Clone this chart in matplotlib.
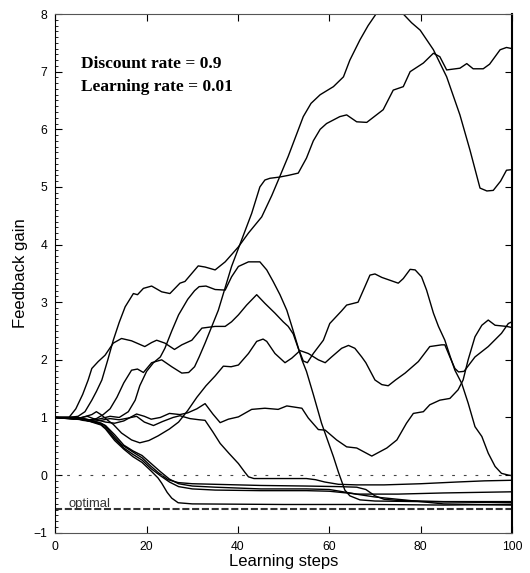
import matplotlib.pyplot as plt

# learning runs (feedback gain vs learning step)
run_a_x = [0, 3, 5, 6.5, 8, 9, 10.2, 11.5, 12.7, 14, 15.3, 17.1, 18, 19.3, 21.1, 23.3, 25.1, 27.3, 28.4, 29.9,
           31.3, 32.8, 35, 37.2, 40.1, 42.3, 45.2, 47.4, 49, 51, 54.3, 56, 58, 60.9, 63.1, 64.5, 66.7, 68.5,
           70.4, 72, 74, 76.2, 78, 79.9, 82.8, 85.7, 88.6, 90.8, 93, 94.5, 95.9, 97.5, 98.8, 100]
run_a_y = [1, 1.0, 1.02, 1.1, 1.3, 1.45, 1.65, 2.0, 2.34, 2.65, 2.92, 3.15, 3.13, 3.24, 3.28, 3.18, 3.15, 3.33, 3.36, 3.5,
           3.63, 3.61, 3.56, 3.7, 3.96, 4.2, 4.48, 4.85, 5.15, 5.53, 6.22, 6.45, 6.6, 6.74, 6.91, 7.2, 7.55, 7.8,
           8.02, 8.25, 8.3, 8.0, 7.85, 7.72, 7.38, 6.91, 6.25, 5.64, 4.98, 4.93, 4.94, 5.1, 5.29, 5.3]

run_b_x = [0, 5, 7, 9, 10.5, 12, 13.5, 15, 16.7, 18, 19.3, 21.1, 23.3, 25.5, 27.7, 29.2, 30.5, 31.5, 32.8, 35.7,
           38.6, 40.8, 43, 44.8, 45.9, 47, 49, 51, 53.2, 55, 56.5, 58, 59.4, 62.3, 63.8, 66, 68.2, 71.8, 74,
           76.2, 77.7, 80.6, 82.8, 84.2, 85.7, 88.6, 90.1, 91.5, 93.7, 95.1, 97.4, 98.8, 100]
run_b_y = [1, 1.0, 0.95, 0.98, 1.05, 1.15, 1.35, 1.6, 1.82, 1.84, 1.78, 1.95, 2.0, 1.88, 1.77, 1.78, 1.88, 2.05, 2.29, 2.86,
           3.62, 4.08, 4.54, 5.0, 5.12, 5.15, 5.17, 5.2, 5.24, 5.5, 5.8, 6.0, 6.1, 6.22, 6.25, 6.13, 6.12, 6.34, 6.68,
           6.74, 7.0, 7.15, 7.32, 7.26, 7.03, 7.06, 7.14, 7.05, 7.05, 7.13, 7.38, 7.42, 7.4]

run_c_x = [0, 5, 8, 10, 12, 14, 16, 17.5, 18.5, 20, 21.5, 23, 24, 25.5, 27, 29, 30.5, 31.5, 33, 35, 37.2, 38.6,
           40.1, 42.3, 44.8, 46.3, 47.7, 49.2, 50.7, 51.8, 52.9, 54, 55, 56.5, 58.3, 60.9, 62, 63.4, 64.5, 66.7,
           70, 80, 90, 100]
run_c_y = [1, 1.0, 0.95, 0.98, 1.02, 1.0, 1.1, 1.3, 1.55, 1.8, 1.95, 2.05, 2.2, 2.5, 2.78, 3.05, 3.2, 3.27, 3.28, 3.22, 3.21, 3.44,
           3.62, 3.7, 3.7, 3.56, 3.36, 3.13, 2.86, 2.58, 2.29, 2.0, 1.8, 1.4, 0.9, 0.32, 0.05, -0.26, -0.36, -0.43,
           -0.45, -0.46, -0.47, -0.48]

run_d_x = [0, 3, 4.5, 6, 7.2, 8, 9.4, 10.9, 12.7, 14.5, 16.7, 19.6, 21.1, 22.2, 24, 26.1, 27.7, 29.9, 32.1, 35,
           37.2, 38.6, 40.1, 41.9, 44.1, 45.9, 48.1, 49.9, 51, 52.1, 53.2, 54.3, 55.2, 56.5, 58.7, 60.1, 62.7,
           63.8, 65.3, 66.3, 67.8, 68.9, 70, 71.5, 75.1, 76.2, 77.7, 78.8, 80.2, 81.3, 82.8, 83.9, 85.3, 86.5,
           87.5, 89, 90.4, 91.9, 93.4, 94.8, 96.3, 97.7, 99.2, 100]
run_d_y = [1, 1.0, 1.15, 1.4, 1.65, 1.85, 1.97, 2.08, 2.29, 2.37, 2.33, 2.23, 2.3, 2.34, 2.29, 2.18, 2.26, 2.34, 2.55, 2.58,
           2.58, 2.66, 2.78, 2.95, 3.13, 2.98, 2.81, 2.66, 2.58, 2.45, 2.2, 1.98, 1.95, 2.11, 2.34, 2.63, 2.85,
           2.95, 2.98, 3.0, 3.27, 3.47, 3.49, 3.43, 3.33, 3.41, 3.57, 3.56, 3.44, 3.21, 2.81, 2.58, 2.34, 2.05,
           1.82, 1.59, 1.25, 0.84, 0.67, 0.38, 0.15, 0.03, 0.0, -0.01]

run_e_x = [0, 5, 8, 9, 10, 11.5, 12.7, 14.5, 16.7, 18.5, 20.5, 22.5, 25, 27, 29, 31, 33, 35, 36.8, 38.5, 40.1,
           42.3, 44.1, 45.5, 46.3, 48.1, 50.3, 51.8, 53.6, 55.4, 57.6, 59.1, 60.5, 62.7, 64.2, 65.6, 67.1, 68,
           70, 71.5, 72.9, 74.5, 76.6, 79.5, 82, 84.6, 85.3, 86.4, 87.5, 88.3, 89.5, 91.9, 94.8, 97.7, 99.2, 100]
run_e_y = [1, 0.98, 1.05, 1.1, 1.05, 0.95, 0.88, 0.73, 0.61, 0.56, 0.6, 0.68, 0.8, 0.92, 1.12, 1.35, 1.55, 1.72, 1.89, 1.88, 1.91,
           2.11, 2.32, 2.36, 2.32, 2.11, 1.95, 2.03, 2.16, 2.11, 2.0, 1.95, 2.05, 2.2, 2.25, 2.2, 2.05, 1.95,
           1.65, 1.57, 1.55, 1.65, 1.77, 1.97, 2.23, 2.26, 2.26, 2.05, 1.85, 1.79, 1.8, 2.05, 2.23, 2.46, 2.63, 2.66]

run_g_x = [0, 4, 7, 9, 11, 13, 15, 17.8, 19.5, 21, 23, 25, 27.3, 29, 31, 32.8, 34.5, 36.1, 37.9, 40.1, 43, 45.9,
           48.8, 50.7, 54, 55.4, 57.6, 59.1, 61.6, 63.8, 66, 69.3, 72.6, 74.8, 76.9, 78.4, 80.6, 82, 84.2, 86.4,
           88.2, 89.3, 90.4, 91.9, 93.4, 94.8, 96.3, 98.8, 100]
run_g_y = [1, 0.97, 1.02, 0.96, 0.92, 0.9, 0.94, 1.06, 1.02, 0.97, 1.0, 1.07, 1.05, 1.08, 1.15, 1.24, 1.06, 0.91, 0.97, 1.01, 1.14, 1.16,
           1.14, 1.2, 1.16, 0.99, 0.79, 0.78, 0.61, 0.49, 0.47, 0.33, 0.47, 0.61, 0.9, 1.07, 1.1, 1.22, 1.3, 1.33,
           1.48, 1.65, 2.0, 2.4, 2.6, 2.69, 2.6, 2.58, 2.56]

run_w_x = [0, 4, 6, 8, 10, 12, 14, 16, 17.8, 19.5, 21.5, 23.5, 25.8, 27.3, 29.5, 31.5, 32.8, 34.5, 36.1, 38, 40.1,
           41.5, 42.3, 43.5, 50, 55, 57, 59, 62, 66, 72, 80, 88, 94, 100]
run_w_y = [1, 1.0, 0.95, 0.93, 0.95, 0.98, 0.96, 0.99, 1.02, 0.92, 0.86, 0.93, 1.0, 1.03, 0.98, 0.96, 0.95, 0.75, 0.55, 0.38, 0.2,
           0.05, -0.03, -0.06, -0.06, -0.06, -0.08, -0.12, -0.16, -0.17, -0.17, -0.15, -0.12, -0.1, -0.09]

run_l1_x = [0, 6, 8, 10, 11, 13, 14.5, 17, 19, 21, 22.6, 24.7, 26.9, 30, 35, 45, 55, 62, 66, 68, 70, 72, 75, 85, 100]
run_l1_y = [1, 0.97, 0.93, 0.9, 0.85, 0.66, 0.53, 0.4, 0.3, 0.15, 0.04, -0.08, -0.13, -0.15, -0.16, -0.18, -0.19, -0.2, -0.21,
            -0.25, -0.36, -0.42, -0.44, -0.46, -0.46]

run_l2_x = [0, 6, 8, 10, 11, 13, 15, 17, 19, 21, 23, 25, 27, 30, 35, 45, 55, 60, 63, 66, 75, 85, 100]
run_l2_y = [1, 0.98, 0.95, 0.9, 0.86, 0.7, 0.52, 0.42, 0.34, 0.2, 0.06, -0.07, -0.15, -0.19, -0.21, -0.24, -0.24, -0.25,
            -0.29, -0.33, -0.33, -0.31, -0.29]

run_l3_x = [0, 6, 8, 10, 11, 13, 15, 17, 19, 21, 23, 25, 27, 30, 35, 45, 55, 60, 65, 70, 75, 85, 100]
run_l3_y = [1, 0.96, 0.93, 0.88, 0.82, 0.63, 0.47, 0.36, 0.26, 0.11, -0.01, -0.12, -0.2, -0.24, -0.26, -0.27, -0.27, -0.28,
            -0.32, -0.38, -0.42, -0.5, -0.52]

run_l4_x = [0, 6, 8, 10, 11, 13, 15, 17, 19, 21, 22.5, 23.3, 24.5, 25.5, 26.9, 30, 50, 70, 85, 100]
run_l4_y = [1, 0.97, 0.92, 0.87, 0.8, 0.6, 0.45, 0.32, 0.22, 0.07, -0.05, -0.14, -0.3, -0.4, -0.48, -0.5, -0.51, -0.51,
            -0.52, -0.51]

optimal_gain = -0.58
x_ticks = [0, 20, 40, 60, 80, 100]
y_ticks = [-1, 0, 1, 2, 3, 4, 5, 6, 7, 8]

runs = [(run_a_x, run_a_y), (run_b_x, run_b_y), (run_c_x, run_c_y), (run_d_x, run_d_y),
        (run_e_x, run_e_y), (run_g_x, run_g_y), (run_w_x, run_w_y), (run_l1_x, run_l1_y),
        (run_l2_x, run_l2_y), (run_l3_x, run_l3_y), (run_l4_x, run_l4_y)]

plt.rcParams['font.family'] = ['Liberation Sans', 'DejaVu Sans']

fig = plt.figure(figsize=(5.3, 5.73), dpi=100)
ax = fig.add_axes([0.1043, 0.0703, 0.8617, 0.9052])

for xs, ys in runs:
    ax.plot(xs, ys, color='black', lw=1.0)

ax.axhline(0, color='#444444', lw=0.8, dashes=(2.5, 8))
ax.axhline(optimal_gain, color='#333333', lw=1.5, dashes=(3.4, 1.3))
ax.text(2.8, -0.55, 'optimal', fontsize=9.4, color='#333333', va='baseline')

ax.text(5.6, 7.14, 'Discount rate = 0.9', family='Liberation Serif', weight='bold', fontsize=12.5, va='center')
ax.text(5.6, 6.73, 'Learning rate = 0.01', family='Liberation Serif', weight='bold', fontsize=12.5, va='center')

ax.set_xlim(0, 100)
ax.set_ylim(-1, 8)
ax.set_xticks(x_ticks)
ax.set_yticks(y_ticks)
ax.set_yticks([v / 10 for v in range(-10, 81)], minor=True)
ax.tick_params(which='major', direction='in', top=True, right=True, length=5, width=0.8,
               labelsize=8.7, pad=6)
ax.tick_params(which='minor', direction='in', left=True, right=False, length=2, width=0.6)
ax.tick_params(axis='x', which='minor', bottom=False, top=False)

for side in ['top', 'bottom']:
    ax.spines[side].set_color('#555555')
ax.spines['right'].set_linewidth(1.5)

ax.set_xlabel('Learning steps', fontsize=12, labelpad=1)
ax.set_ylabel('Feedback gain', fontsize=12, labelpad=4)

fig.savefig('out.png', dpi=100)
